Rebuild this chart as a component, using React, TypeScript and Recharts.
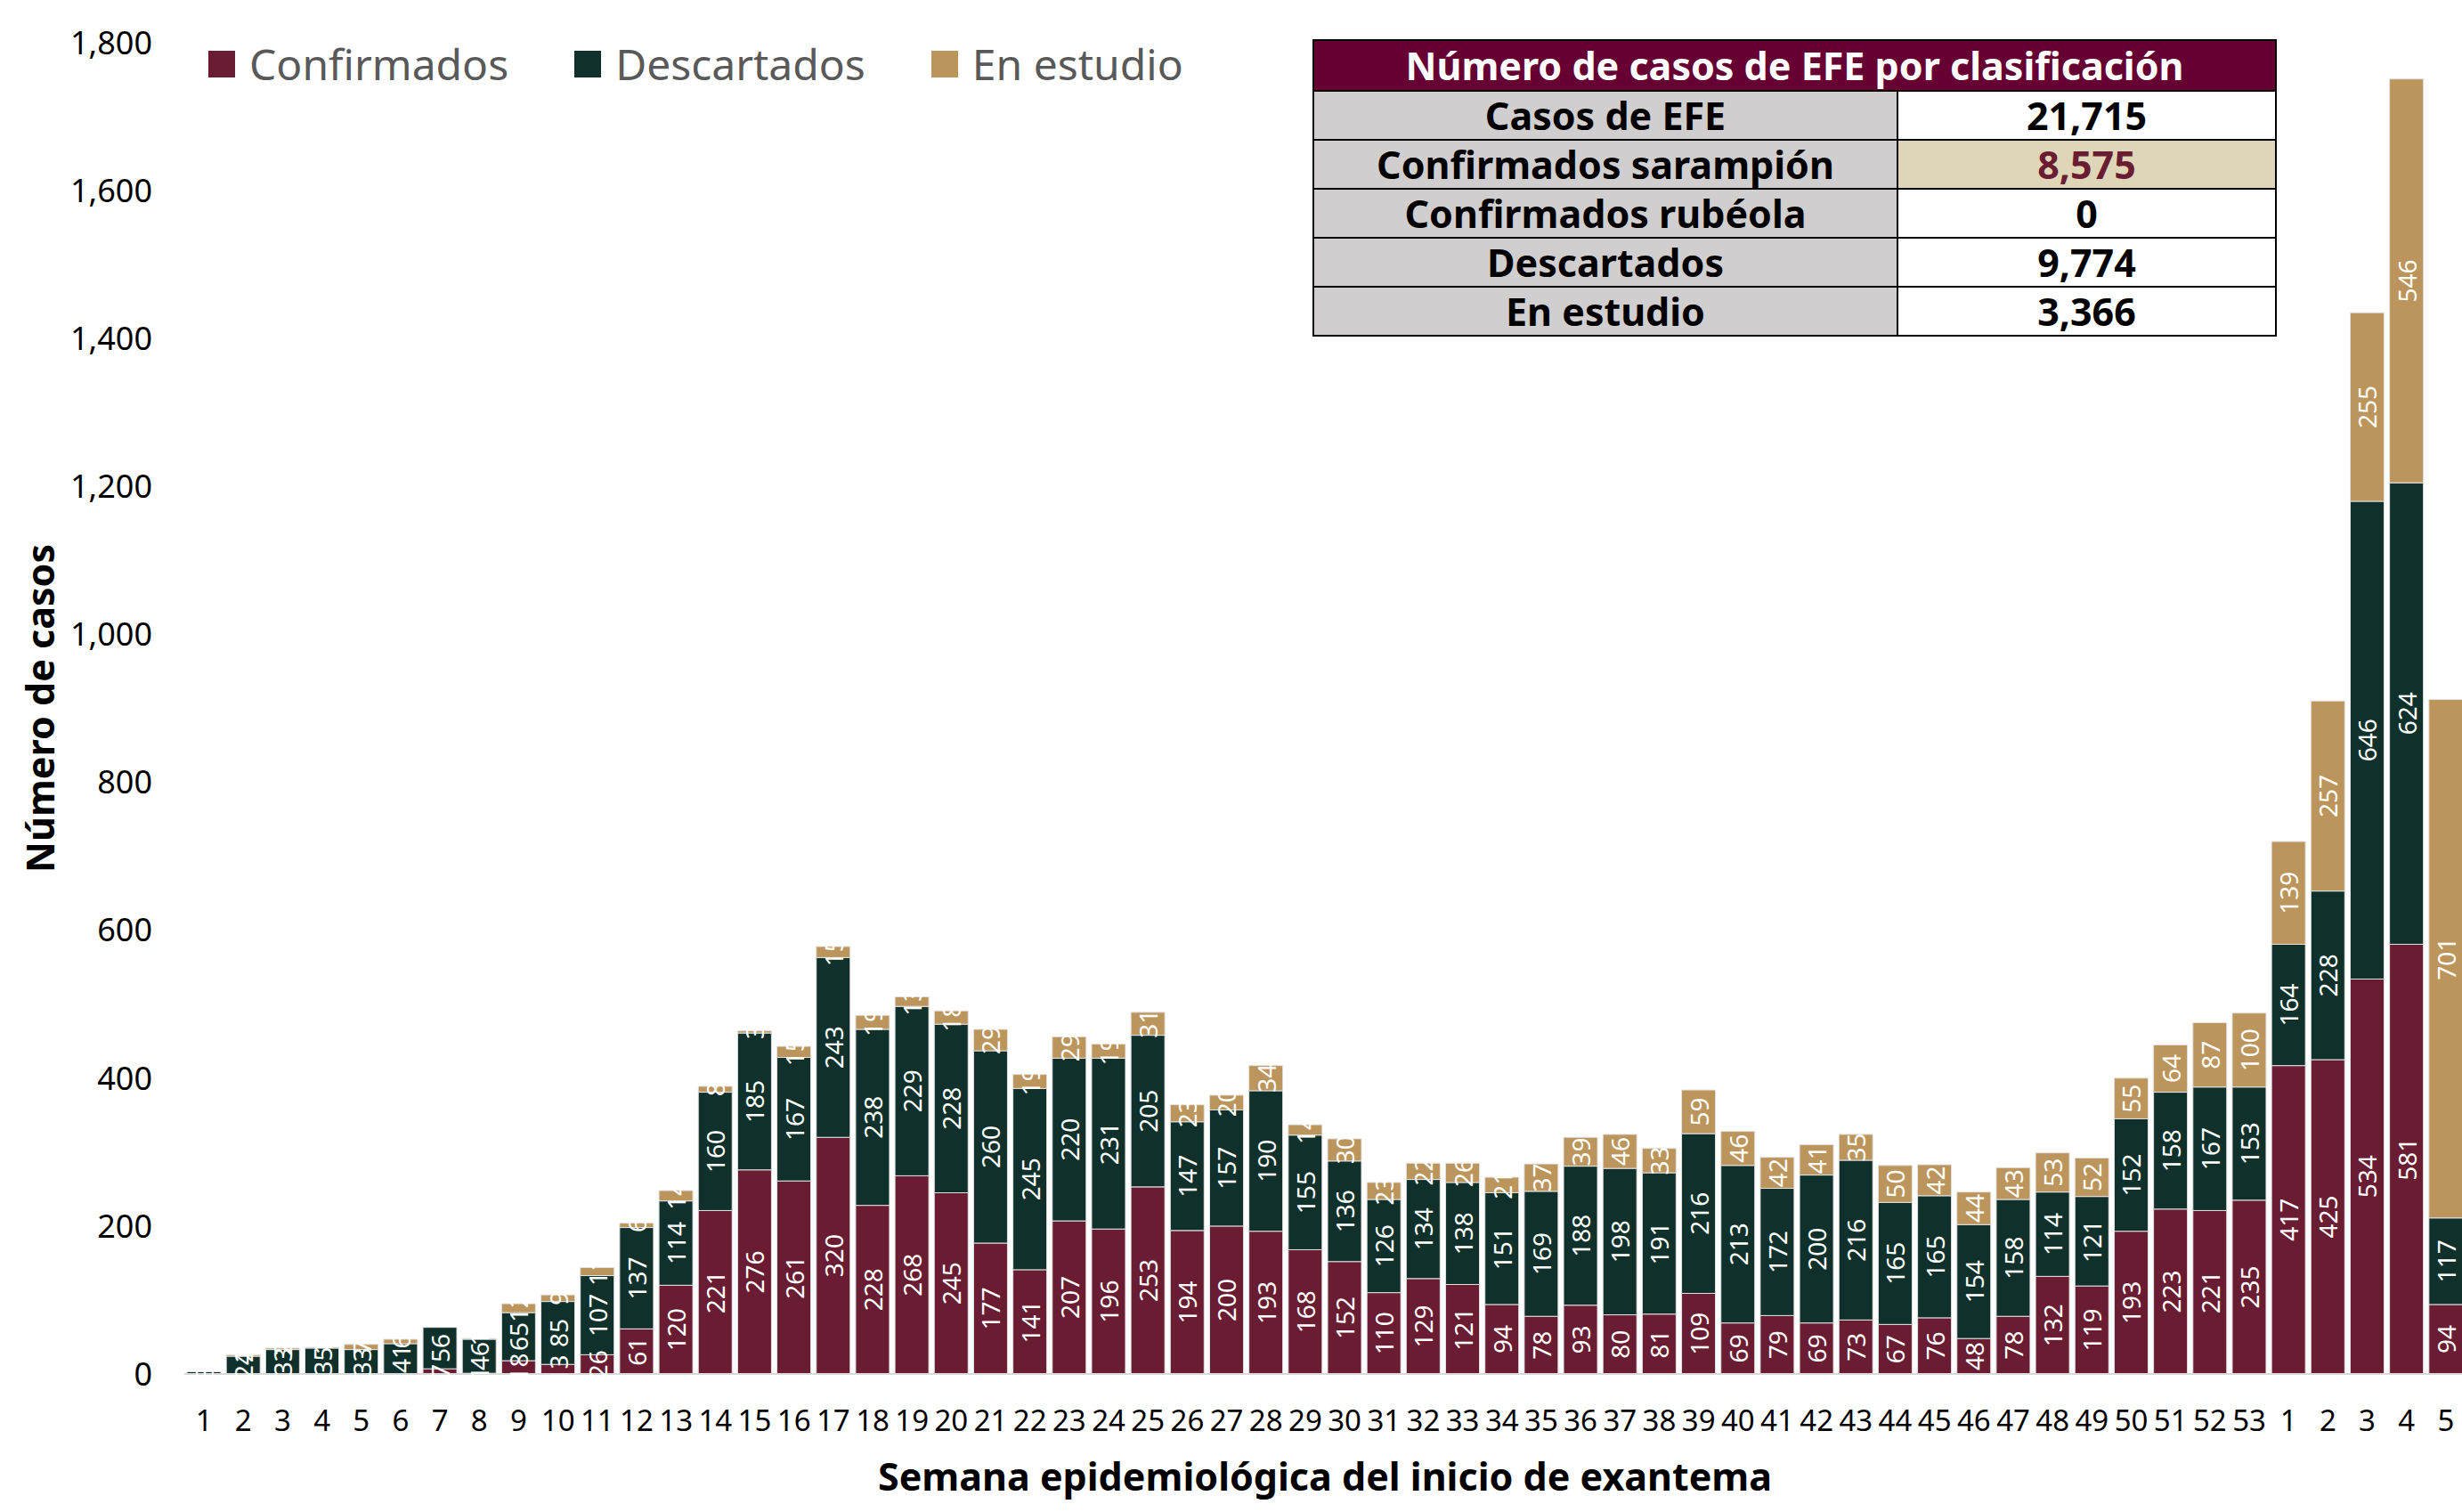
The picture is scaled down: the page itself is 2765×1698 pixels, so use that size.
import { BarChart, Bar, XAxis, YAxis, LabelList, Label } from "recharts";

const semanas = [
  "1", "2", "3", "4", "5", "6", "7", "8", "9", "10", "11", "12", "13", "14", "15", "16", "17", "18",
  "19", "20", "21", "22", "23", "24", "25", "26", "27", "28", "29", "30", "31", "32", "33", "34", "35",
  "36", "37", "38", "39", "40", "41", "42", "43", "44", "45", "46", "47", "48", "49", "50", "51", "52",
  "53", "1", "2", "3", "4", "5",
];

const confirmados = [
  0, 0, 0, 0, 0, 0, 7, 1, 18, 13, 26, 61, 120, 221, 276, 261, 320, 228, 268, 245, 177, 141, 207, 196,
  253, 194, 200, 193, 168, 152, 110, 129, 121, 94, 78, 93, 80, 81, 109, 69, 79, 69, 73, 67, 76, 48, 78,
  132, 119, 193, 223, 221, 235, 417, 425, 534, 581, 94,
];

const descartados = [
  3, 24, 33, 35, 33, 41, 56, 46, 65, 85, 107, 137, 114, 160, 185, 167, 243, 238, 229, 228, 260, 245,
  220, 231, 205, 147, 157, 190, 155, 136, 126, 134, 138, 151, 169, 188, 198, 191, 216, 213, 172, 200,
  216, 165, 165, 154, 158, 114, 121, 152, 158, 167, 153, 164, 228, 646, 624, 117,
];

const enEstudio = [
  0, 2, 2, 1, 7, 6, 0, 1, 12, 9, 11, 6, 14, 8, 3, 15, 15, 19, 13, 18, 29, 19, 29, 19, 31, 23, 20, 34,
  14, 30, 23, 22, 26, 21, 37, 39, 46, 33, 59, 46, 42, 41, 35, 50, 42, 44, 43, 53, 52, 55, 64, 87, 100,
  139, 257, 255, 546, 701,
];

const yTicks = [0, 200, 400, 600, 800, 1000, 1200, 1400, 1600, 1800];

const series = [
  { key: "confirmados", name: "Confirmados", color: "#691C32" },
  { key: "descartados", name: "Descartados", color: "#10312B" },
  { key: "enEstudio", name: "En estudio", color: "#BC955C" },
];

const resumenEtiquetas = ["Casos de EFE", "Confirmados sarampión", "Confirmados rubéola", "Descartados", "En estudio"];
const resumenValores = ["21,715", "8,575", "0", "9,774", "3,366"];

const data = semanas.map((s, i) => ({
  id: "w" + i,
  semana: s,
  confirmados: confirmados[i],
  descartados: descartados[i],
  enEstudio: enEstudio[i],
}));

const FONT = "'Noto Sans', 'Open Sans', sans-serif";

const SegLabel = (props: any) => {
  const { x, y, width, height, value } = props;
  if (!value) return null;
  const cx = x + width / 2;
  const cy = y + height / 2;
  return (
    <text
      x={cx}
      y={cy}
      transform={`rotate(-90 ${cx} ${cy})`}
      textAnchor="middle"
      dominantBaseline="central"
      fill="#ffffff"
      fontSize={28}
      fontFamily={FONT}
    >
      {value}
    </text>
  );
};

const YTitle = (props: any) => {
  const vb = props.viewBox;
  const cx = 44;
  const cy = vb.y + vb.height / 2;
  return (
    <text
      x={cx}
      y={cy}
      transform={`rotate(-90 ${cx} ${cy})`}
      textAnchor="middle"
      dominantBaseline="central"
      fontSize={43}
      fontWeight={700}
      fontFamily={FONT}
      fill="#000"
    >
      Número de casos
    </text>
  );
};

const XTitle = (props: any) => {
  const vb = props.viewBox;
  return (
    <text
      x={vb.x + vb.width / 2}
      y={1657}
      textAnchor="middle"
      dominantBaseline="central"
      fontSize={43}
      fontWeight={700}
      fontFamily={FONT}
      fill="#000"
    >
      Semana epidemiológica del inicio de exantema
    </text>
  );
};

const cell = (bg: string, color: string, w: number): any => ({
  background: bg,
  color,
  width: w,
  height: 55,
  display: "flex",
  alignItems: "center",
  justifyContent: "center",
  borderRight: "2px solid #000",
  borderBottom: "2px solid #000",
  boxSizing: "border-box",
});

export default function App() {
  return (
    <div
      style={{
        position: "fixed",
        left: 0,
        top: 0,
        width: 2765,
        height: 1698,
        overflow: "hidden",
        background: "#fff",
        fontFamily: FONT,
      }}
    >
      <BarChart
        width={2790}
        height={1698}
        data={data}
        margin={{ top: 48, right: 21, left: 0, bottom: 0 }}
      >
        <XAxis
          dataKey="id"
          interval={0}
          height={155}
          tickLine={false}
          tickMargin={35}
          axisLine={{ stroke: "#d9d9d9", strokeWidth: 2 }}
          tickFormatter={(_v: any, i: number) => semanas[i]}
          tick={{ fontSize: 33, fill: "#000", fontFamily: FONT }}
        >
          <Label content={XTitle} />
        </XAxis>
        <XAxis xAxisId="lbl" dataKey="id" hide />
        <YAxis
          width={207}
          domain={[0, 1800]}
          ticks={yTicks}
          axisLine={false}
          tickLine={false}
          tickMargin={30}
          tickFormatter={(v: number) => v.toLocaleString("en-US")}
          tick={{ fontSize: 36, fill: "#000", fontFamily: FONT }}
        >
          <Label content={YTitle} />
        </YAxis>
        {series.map((s) => (
          <Bar
            key={s.key}
            dataKey={s.key}
            name={s.name}
            stackId="a"
            fill={s.color}
            stroke="#e2e2e2"
            strokeWidth={1}
            barSize={38}
            isAnimationActive={false}
          />
        ))}
        {series.map((s) => (
          <Bar
            key={"l" + s.key}
            xAxisId="lbl"
            dataKey={s.key}
            stackId="lbl"
            fill="none"
            barSize={38}
            isAnimationActive={false}
            legendType="none"
          >
            <LabelList dataKey={s.key} content={SegLabel} />
          </Bar>
        ))}
      </BarChart>

      <div style={{ position: "absolute", left: 234, top: 46, height: 52, display: "flex", alignItems: "center" }}>
        {series.map((s) => (
          <div key={s.key} style={{ display: "flex", alignItems: "center", marginRight: 74 }}>
            <div style={{ width: 30, height: 30, background: s.color, marginRight: 16 }} />
            <span style={{ fontSize: 48, color: "#595959", lineHeight: "52px" }}>{s.name}</span>
          </div>
        ))}
      </div>

      <div
        style={{
          position: "absolute",
          left: 1474,
          top: 44,
          width: 1083,
          borderLeft: "2px solid #000",
          borderTop: "2px solid #000",
          boxSizing: "border-box",
          fontWeight: 700,
          fontSize: 43,
        }}
      >
        <div style={{ ...cell("#660033", "#fff", 1081), height: 57 }}>Número de casos de EFE por clasificación</div>
        {resumenEtiquetas.map((lab, i) => (
          <div key={lab} style={{ display: "flex" }}>
            <div style={cell("#D0CECE", "#000", 656)}>{lab}</div>
            <div style={cell(i === 1 ? "#DFD5B7" : "#fff", i === 1 ? "#691C32" : "#000", 425)}>{resumenValores[i]}</div>
          </div>
        ))}
      </div>
    </div>
  );
}
